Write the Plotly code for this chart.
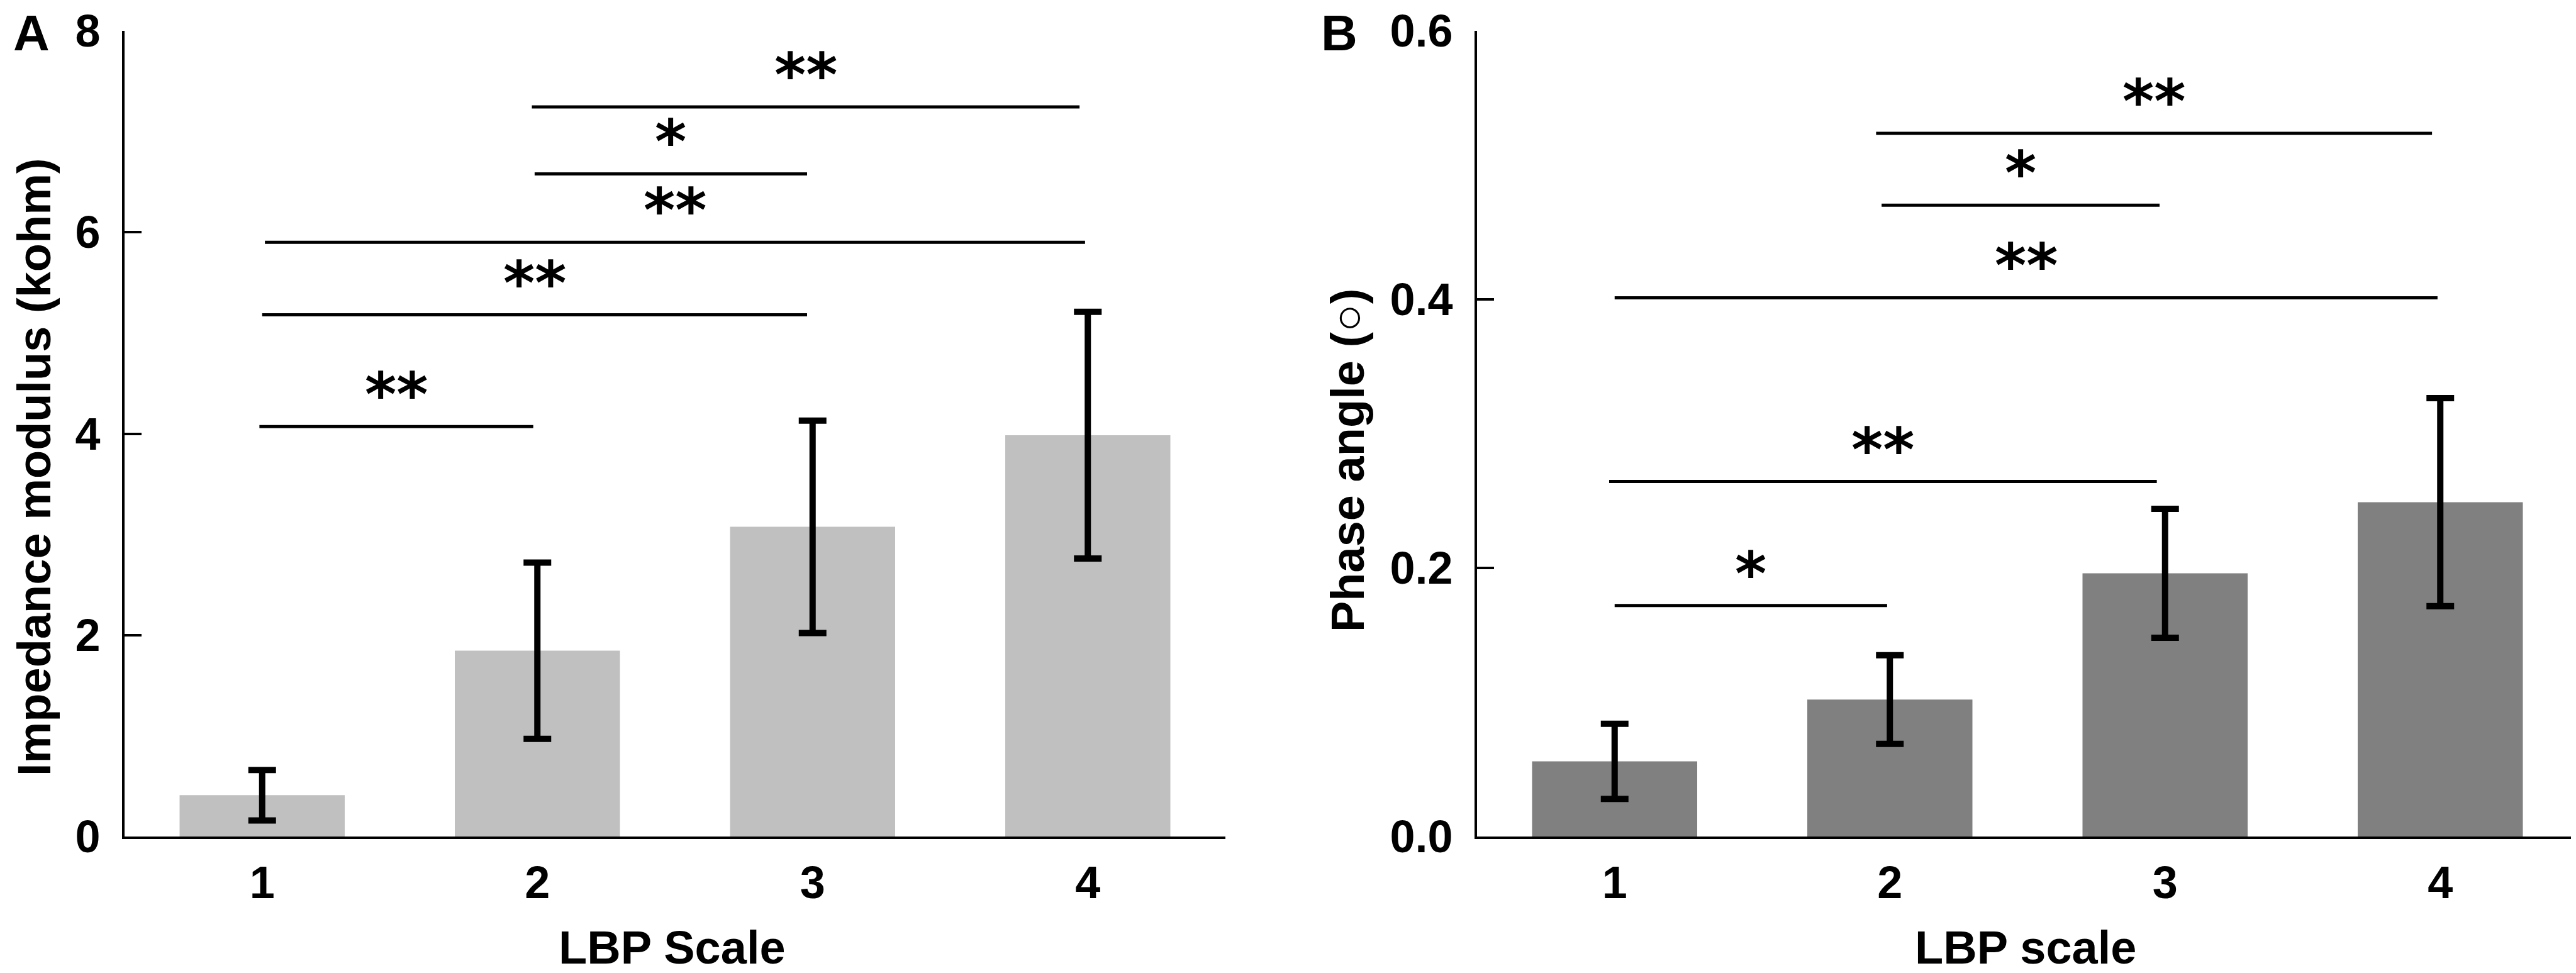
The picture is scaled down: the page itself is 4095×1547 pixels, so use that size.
import plotly.graph_objects as go

# ---------------- data ----------------
lbp_levels = [1, 2, 3, 4]
tick_labels = ["1", "2", "3", "4"]

impedance_mean = [0.41, 1.845, 3.075, 3.985]
impedance_err = [0.25, 0.875, 1.055, 1.225]

phase_mean = [0.056, 0.102, 0.196, 0.249]
phase_err = [0.028, 0.033, 0.048, 0.0775]

# significance brackets: start, end, height, label
imp_sig_start = [0.99, 1.00, 1.01, 1.99, 1.98]
imp_sig_end = [1.985, 2.98, 3.99, 2.98, 3.97]
imp_sig_y = [4.07, 5.18, 5.90, 6.58, 7.245]
imp_sig_label = ["**", "**", "**", "*", "**"]

ph_sig_start = [1.00, 0.98, 1.00, 1.97, 1.95]
ph_sig_end = [1.99, 2.97, 3.99, 2.98, 3.97]
ph_sig_y = [0.172, 0.2644, 0.4012, 0.4701, 0.5237]
ph_sig_label = ["*", "**", "**", "*", "**"]

imp_yticks = [0, 2, 4, 6, 8]
ph_yticks = [0.0, 0.2, 0.4, 0.6]
ph_ytick_text = ["0.0", "0.2", "0.4", "0.6"]

# ---------------- figure ----------------
W, H = 4095, 1547
FONT = "Liberation Sans, Arial, Helvetica, sans-serif"
STAR_FONT = "DejaVu Sans, Liberation Sans, sans-serif"

fig = go.Figure()

fig.add_trace(go.Bar(
    x=lbp_levels, y=impedance_mean, width=0.6,
    marker=dict(color="#c0c0c0", line=dict(width=0)),
    error_y=dict(type="data", array=impedance_err, visible=True,
                 color="black", thickness=10, width=22),
    xaxis="x", yaxis="y", showlegend=False,
))
fig.add_trace(go.Bar(
    x=lbp_levels, y=phase_mean, width=0.6,
    marker=dict(color="#808080", line=dict(width=0)),
    error_y=dict(type="data", array=phase_err, visible=True,
                 color="black", thickness=10, width=22),
    xaxis="x2", yaxis="y2", showlegend=False,
))

ydom = [225 / H, 1506 / H]
axis_font = dict(family=FONT, size=72, color="black", weight="bold")

common_x = dict(
    range=[0.5, 4.5], tickvals=lbp_levels, ticktext=tick_labels,
    showline=True, linewidth=4, linecolor="black", ticks="",
    showgrid=False, zeroline=False, tickfont=axis_font,
    ticklabelstandoff=8, fixedrange=True, automargin=False,
)
common_y = dict(
    showline=True, linewidth=4, linecolor="black",
    ticks="inside", ticklen=27, tickwidth=4, tickcolor="black",
    showgrid=False, zeroline=False, tickfont=axis_font,
    ticklabelstandoff=20, domain=ydom, fixedrange=True, automargin=False,
)

fig.update_layout(
    width=W, height=H,
    margin=dict(l=0, r=0, t=0, b=0, pad=0, autoexpand=False),
    paper_bgcolor="white", plot_bgcolor="white",
    font=dict(family=FONT, color="black"),
    xaxis=dict(domain=[190 / W, 1940 / W], anchor="y", **common_x),
    yaxis=dict(range=[0, 8], tickvals=imp_yticks, anchor="x", **common_y),
    xaxis2=dict(domain=[2340 / W, 4090 / W], anchor="y2", **common_x),
    yaxis2=dict(range=[0, 0.6], tickvals=ph_yticks, ticktext=ph_ytick_text,
                anchor="x2", **common_y),
    bargap=0.4,
)

shapes = []
annotations = []


def add_sig(starts, ends, ys, labels, xref, yref):
    for s, e, yv, lab in zip(starts, ends, ys, labels):
        shapes.append(dict(type="line", xref=xref, yref=yref,
                           x0=s, x1=e, y0=yv, y1=yv,
                           line=dict(color="black", width=5)))
        annotations.append(dict(
            x=(s + e) / 2, y=yv, xref=xref, yref=yref, text=lab,
            showarrow=False, yanchor="middle", xanchor="center", yshift=50,
            font=dict(family=STAR_FONT, size=96, color="black",
                      weight="bold"),
        ))


add_sig(imp_sig_start, imp_sig_end, imp_sig_y, imp_sig_label, "x", "y")
add_sig(ph_sig_start, ph_sig_end, ph_sig_y, ph_sig_label, "x2", "y2")

title_font = dict(family=FONT, size=74, color="black", weight="bold")
letter_font = dict(family=FONT, size=80, color="black", weight="bold")


def paper_text(text, px, py, font, angle=0):
    annotations.append(dict(
        text=text, x=px / W, y=1 - py / H, xref="paper", yref="paper",
        showarrow=False, xanchor="center", yanchor="middle",
        textangle=angle, font=font,
    ))


paper_text("Impedance modulus (kohm)", 46, 735, title_font, -90)
paper_text("Phase angle (○)", 2134, 724, title_font, -90)
paper_text("LBP Scale", 1060, 1498, title_font)
paper_text("LBP scale", 3212, 1498, title_font)
paper_text("A", 42, 44, letter_font)
paper_text("B", 2121, 44, letter_font)

fig.update_layout(shapes=shapes, annotations=annotations)

fig.write_html("out.html")
